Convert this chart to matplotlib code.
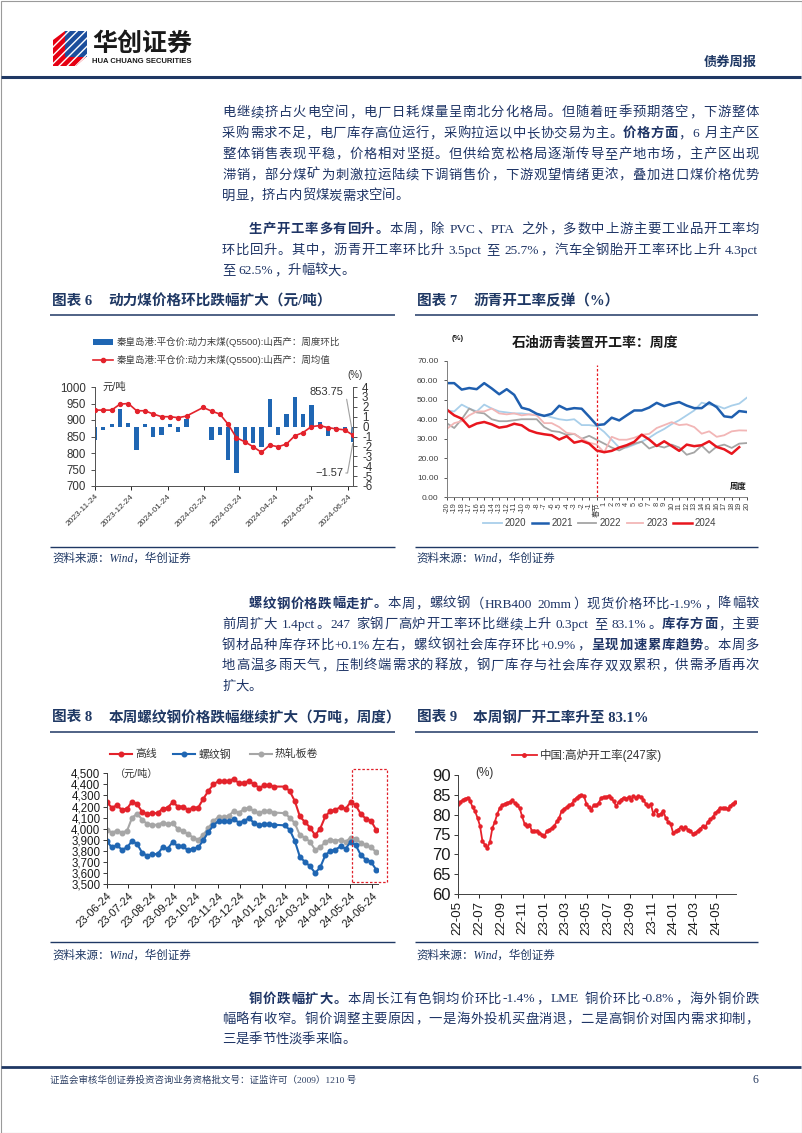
import re
import numpy as np
import pandas as pd
import matplotlib
matplotlib.use('Agg')
import matplotlib.pyplot as plt
from matplotlib.lines import Line2D
from matplotlib.patches import Rectangle, Polygon
from matplotlib.ticker import FuncFormatter

# ------------------------------------------------------------------ data
# Chart 6: thermal coal (weekly, spring-festival week missing)
coal_dates = pd.date_range('2023-11-24', periods=32, freq='7D').delete(12)
coal_price = [930, 930, 930, 948, 950, 928, 928, 918, 910, 910, 907, 912,
              938, 927, 918, 887, 846, 834, 819, 802, 824, 819, 827, 852,
              862, 880, 883, 877, 873, 870, 853.75]
coal_wow = [-1.4, -0.3, 0.3, 1.8, 0.4, -2.4, 0.25, -1.0, -0.8, 0.3, -0.5, 0.8,
            np.nan, -1.4, -0.8, -3.4, -4.7, -1.5, -1.7, -2.1, 2.8, -0.8, 1.3, 3.0,
            1.3, 2.2, 0.5, -0.9, -0.3, -0.3, -1.57]
coal_ticks = pd.date_range('2023-11-24', periods=8, freq=pd.DateOffset(months=1))

# Chart 7: asphalt operating rate by week relative to Spring Festival
asph_labels = [str(i) for i in range(-20, 0)] + ['春节'] + [str(i) for i in range(1, 21)]
asph_2020 = [44.5, 44, 47.5, 45.5, 44, 47.5, 45.5, 44, 43.5, 43, 43, 42.5, 42, 42, 41, 40,
             39.5, 40, 37, 37, 36.5, 33.5, 29.5, 25.5, 25.5, 27, 28.5, 30.5, 33, 35, 37.5,
             39.5, 42, 44.5, 48.5, 47.5, 47, 45.5, 47, 48, 51]
asph_2021 = [58.5, 58.5, 55.2, 56, 55.4, 58.5, 55.8, 52.8, 55.4, 52.5, 45.9, 44.9, 42.8,
             41.7, 42.8, 46.9, 45, 45.7, 45.4, 41.3, 37, 37.4, 40.8, 39.4, 42, 44.5, 44.5,
             46, 48.4, 46.7, 47.9, 48.8, 47, 45.7, 45.7, 48.6, 46.2, 41.5, 41, 44.2, 43.7]
asph_2022 = [38, 35.5, 40, 45.5, 43.5, 43, 40, 39, 39, 39.5, 40, 40, 40, 36, 34, 33.5, 32,
             32.5, 30, 31.5, 29.5, 27.5, 25.5, 24, 26, 27.5, 28.5, 25, 26.5, 25.5, 27, 25.5,
             21.8, 23, 26.5, 22.8, 26, 27, 25.3, 27.5, 27.8]
asph_2023 = [35, 38, 39, 42, 44, 44, 45.5, 43, 42.5, 43, 42, 42.5, 42, 38, 38, 36, 33, 32.5,
             30, 28, 27, 23, 31, 29.5, 29.5, 30.5, 32, 32.5, 35.5, 37, 38.5, 37, 37.4, 36,
             32.6, 33.8, 31, 31.8, 33.8, 34.3, 34.2]
asph_2024 = [45, 42, 40.3, 36, 37.8, 38.6, 37.4, 35.7, 36.3, 37.7, 36.9, 34.3, 33, 32.3,
             31.8, 29.6, 31.3, 28, 28.9, 27.5, 24, 23.1, 23.8, 25.5, 26.7, 28.4, 32.1, 29.6,
             26.3, 28.7, 26.3, 23.8, 27, 26.2, 26.7, 28.7, 25.8, 24.6, 22.3, 25.7, np.nan]

# Chart 8: steel prices (weekly, spring-festival week missing)
steel_dates = pd.date_range('2023-06-24', periods=54, freq='7D').delete(34)
wire_rod = [4240, 4190, 4210, 4170, 4180, 4245, 4220, 4150, 4130, 4140, 4140, 4180, 4190,
            4240, 4200, 4200, 4170, 4190, 4190, 4270, 4340, 4400, 4430, 4430, 4430, 4450,
            4410, 4415, 4430, 4400, 4370, 4390, 4390, 4380,
            4380, 4340, 4250, 4110, 4060, 4010, 3940, 4000, 4110, 4160, 4170, 4195, 4180,
            4240, 4210, 4130, 4090, 4070, 3990]
rebar = [3890, 3830, 3850, 3810, 3830, 3890, 3860, 3780, 3755, 3770, 3770, 3830, 3820,
         3880, 3840, 3840, 3805, 3820, 3830, 3895, 3970, 4030, 4070, 4065, 4065, 4085,
         4055, 4070, 4095, 4050, 4030, 4040, 4040, 4035,
         4030, 3990, 3890, 3745, 3700, 3660, 3600, 3650, 3760, 3800, 3810, 3840, 3820,
         3880, 3850, 3760, 3720, 3700, 3630]
hot_coil = [3990, 3965, 3980, 3965, 3980, 4100, 4135, 4080, 4040, 4035, 4035, 4055, 4040,
            4050, 3995, 3980, 3950, 3920, 3900, 3945, 4005, 4070, 4105, 4105, 4115, 4160,
            4145, 4175, 4190, 4155, 4140, 4160, 4160, 4145,
            4140, 4100, 4050, 3940, 3920, 3880, 3810, 3830, 3880, 3900, 3890, 3900, 3880,
            3920, 3910, 3870, 3850, 3830, 3790]
steel_ticks = pd.date_range('2023-06-24', '2024-06-24', freq=pd.DateOffset(months=1))

# Chart 9: blast furnace operating rate (247 mills), weekly
bf_dates = pd.date_range('2022-05-06', periods=113, freq='7D')
bf_rate = [82.8, 83.2, 83.7, 84.0, 84.3, 83.5, 81.9, 80.9, 79.2, 77.2, 73.3, 72.4, 71.6,
           73.1, 76.6, 78.2, 80.2, 81.7, 82.4, 82.7, 83.0, 83.2, 83.6, 83.0, 82.4, 81.7,
           79.6, 77.7, 77.1, 77.5, 75.8, 76.0, 75.8, 75.4, 75.0, 74.7, 75.8, 76.2, 76.6,
           77.1, 78.3, 79.2, 81.0, 81.5, 81.9, 82.4, 82.7, 83.6, 84.3, 84.7, 84.9, 84.7,
           82.7, 81.9, 81.3, 82.4, 82.4, 83.0, 84.3, 84.4, 84.5, 84.7, 84.1, 83.4, 82.1,
           83.2, 83.8, 84.3, 84.0, 84.4, 83.6, 84.7, 84.3, 84.7, 84.4, 83.8, 82.7, 82.1,
           82.7, 80.2, 81.3, 79.9, 80.2, 81.0, 79.2, 78.2, 77.7, 75.4, 75.8, 76.2, 76.8,
           76.5, 76.8, 76.2, 75.8, 75.2, 75.4, 76.0, 76.5, 77.1, 76.8, 78.2, 78.8, 79.3,
           80.4, 81.0, 81.7, 81.7, 81.7, 81.5, 82.1, 82.8, 83.1]
bf_ticks = pd.date_range('2022-05-06', periods=13, freq=pd.DateOffset(months=2))

# ------------------------------------------------------------------ text content
para1 = ["电继续挤占火电空间，电厂日耗煤量呈南北分化格局。但随着旺季预期落空，下游整体",
         "采购需求不足，电厂库存高位运行，采购拉运以中长协交易为主。**价格方面**，6 月主产区",
         "整体销售表现平稳，价格相对坚挺。但供给宽松格局逐渐传导至产地市场，主产区出现",
         "滞销，部分煤矿为刺激拉运陆续下调销售价，下游观望情绪更浓，叠加进口煤价格优势",
         "明显，挤占内贸煤炭需求空间。"]
para2 = ["**生产开工率多有回升。**本周，除 PVC、PTA 之外，多数中上游主要工业品开工率均",
         "环比回升。其中，沥青开工率环比升 3.5pct 至 25.7%，汽车全钢胎开工率环比上升 4.3pct",
         "至 62.5%，升幅较大。"]
para3 = ["**螺纹钢价格跌幅走扩。**本周，螺纹钢（HRB400 20mm）现货价格环比-1.9%，降幅较",
         "前周扩大 1.4pct。247 家钢厂高炉开工率环比继续上升 0.3pct 至 83.1%。**库存方面**，主要",
         "钢材品种库存环比+0.1%左右，螺纹钢社会库存环比+0.9%，**呈现加速累库趋势**。本周多",
         "地高温多雨天气，压制终端需求的释放，钢厂库存与社会库存双双累积，供需矛盾再次",
         "扩大。"]
para4 = ["**铜价跌幅扩大。**本周长江有色铜均价环比-1.4%，LME 铜价环比-0.8%，海外铜价跌",
         "幅略有收窄。铜价调整主要原因，一是海外投机买盘消退，二是高铜价对国内需求抑制，",
         "三是季节性淡季来临。"]

# ------------------------------------------------------------------ setup
W, H = 802, 1133
CJK = 'Noto Sans CJK SC'
SANS = ['Liberation Sans', CJK, 'DejaVu Sans']
SERIF = ['Liberation Serif', CJK, 'DejaVu Sans']
plt.rcParams['font.family'] = SANS
plt.rcParams['axes.unicode_minus'] = False

NAVY = '#1F3864'
TXT = '#1F3566'
RED = '#E3222B'
BLUE = '#1F66B3'
GRAY = '#A6A6A6'

fig = plt.figure(figsize=(W / 100, H / 100), dpi=100, facecolor='white')
renderer = fig.canvas.get_renderer()


def FX(x):
    return x / W


def FY(y):
    return 1 - y / H


def ptext(x, y, s, **kw):
    return fig.text(FX(x), FY(y), s, **kw)


def hline(x0, x1, y, color=NAVY, lw=1.0):
    fig.add_artist(Line2D([FX(x0), FX(x1)], [FY(y), FY(y)], transform=fig.transFigure,
                          color=color, lw=lw, solid_capstyle='butt'))


def add_ax(x0, y0, x1, y1):
    return fig.add_axes([FX(x0), FY(y1), (x1 - x0) / W, (y1 - y0) / H])


TOKEN_RE = re.compile(r'[A-Za-z0-9\.\-\+%]+|\s|.')
BODY_SIZE = 9.6


def draw_line(line, x0, x1, yc, justify=True, indent=0.0, size=BODY_SIZE):
    em = size * 100 / 72
    items = []
    for k, part in enumerate(line.split('**')):
        bold = (k % 2 == 1)
        for t in TOKEN_RE.findall(part):
            if t.isspace():
                items.append((None, 0.25 * em, bold, t))
            elif re.match(r'[A-Za-z0-9\.\-\+%]', t):
                tx = fig.text(0, 0, t, fontsize=size, family=SERIF,
                              weight='bold' if bold else 'light')
                w = tx.get_window_extent(renderer).width
                tx.remove()
                items.append(('lat', w + 1.0, bold, t))
            else:
                items.append(('cjk', em, bold, t))
    total = sum(it[1] for it in items)
    start = x0 + indent
    gap = (x1 - start - total) / (len(items) - 1) if (justify and len(items) > 1) else 0
    x = start
    base = yc + 0.36 * em
    for kind, w, bold, t in items:
        if kind is not None:
            ptext(x, base, t, fontsize=size, family=SERIF,
                  weight='bold' if bold else 'light', color=TXT, ha='left', va='baseline')
        x += w + gap


def draw_para(lines, y0, pitch, x0=222, x1=759, first_indent=True):
    em = BODY_SIZE * 100 / 72
    for i, ln in enumerate(lines):
        ind = 2 * em if (i == 0 and first_indent) else 0
        draw_line(ln, x0, x1, y0 + i * pitch, justify=(i < len(lines) - 1), indent=ind)


def chart_title(x_num, x_txt, y, num, txt, x_line0, x_line1, y_line):
    ptext(x_num, y, num, fontsize=10.5, weight='bold', color=NAVY, family=SERIF,
          ha='left', va='center')
    ptext(x_txt, y, txt, fontsize=10.5, weight='bold', color=NAVY, family=SERIF,
          ha='left', va='center')
    hline(x_line0, x_line1, y_line, NAVY, 1.1)


def source(x, y, x_line0, x_line1, y_line):
    hline(x_line0, x_line1, y_line, NAVY, 1.0)
    ptext(x, y, '资料来源：Wind，华创证券', fontsize=8.3, style='italic', color=NAVY,
          family=SERIF, ha='left', va='center')


# ------------------------------------------------------------------ page frame & header
fig.add_artist(Rectangle((FX(0.5), FY(1132.5)), 801 / W, 1132 / H, transform=fig.transFigure,
                         fill=False, ec='#9A9A9A', lw=0.8))
red_logo = [(53, 40), (65, 31), (65, 57), (86, 57), (76, 66), (53, 66)]
blue_logo = [(65, 31), (87, 31), (87, 57), (65, 57)]
fig.add_artist(Polygon([(FX(a), FY(b)) for a, b in red_logo], closed=True,
                       transform=fig.transFigure, facecolor='#E60012', edgecolor='white',
                       hatch='////', lw=0))
fig.add_artist(Polygon([(FX(a), FY(b)) for a, b in blue_logo], closed=True,
                       transform=fig.transFigure, facecolor='#1C4E9C', edgecolor='white',
                       hatch='////', lw=0))
ptext(92, 44, '华创证券', fontsize=18, weight='bold', color='#1A1A1A', family=[CJK],
      ha='left', va='center')
ptext(92, 61.5, 'HUA CHUANG SECURITIES', fontsize=5.5, weight='bold', color='#1A1A1A',
      ha='left', va='center')
ptext(757, 63, '债券周报', fontsize=9.5, weight='bold', color=NAVY, family=SERIF,
      ha='right', va='center')
hline(1, 801, 77.3, NAVY, 2.2)

# ------------------------------------------------------------------ body text
draw_para(para1, 111.5, 20.8, first_indent=False)
draw_para(para2, 228.0, 20.8)
draw_para(para3, 602.7, 20.6)
draw_para(para4, 997.7, 20.3)

# ------------------------------------------------------------------ titles / sources
chart_title(51.7, 108.3, 301, '图表 6', '动力煤价格环比跌幅扩大（元/吨）', 50, 395, 315)
chart_title(416.7, 473.3, 301, '图表 7', '沥青开工率反弹（%）', 415, 758, 315)
chart_title(51.7, 108.3, 717.7, '图表 8', '本周螺纹钢价格跌幅继续扩大（万吨，周度）', 50, 395, 731.7)
chart_title(416.7, 473.3, 717.7, '图表 9', '本周钢厂开工率升至 83.1%', 415, 758, 731.7)
source(52, 558.5, 50, 395, 547.3)
source(416.7, 558.5, 415, 758, 547.3)
source(52, 955.7, 50, 395, 942.3)
source(416.7, 955.7, 415, 758, 942.3)

# ------------------------------------------------------------------ chart 6
ax6 = add_ax(95, 387, 353, 486)
ax6b = ax6.twinx()
mask = ~np.isnan(np.array(coal_wow, dtype=float))
ax6b.bar(coal_dates[mask], np.array(coal_wow)[mask], width=3.6, color=BLUE, zorder=2)
ax6.plot(coal_dates, coal_price, color=RED, lw=1.2, marker='o', ms=2.8, zorder=3)
ax6.set_zorder(ax6b.get_zorder() + 1)
ax6.patch.set_visible(False)
ax6.set_xlim(pd.Timestamp('2023-11-24'), pd.Timestamp('2024-06-28'))
ax6.set_ylim(700, 1000)
ax6.set_yticks(range(700, 1001, 50))
ax6b.set_ylim(-6, 4)
ax6b.set_yticks(range(-6, 5))
ax6.set_xticks(coal_ticks)
ax6.set_xticklabels([d.strftime('%Y-%m-%d') for d in coal_ticks], rotation=45, ha='right',
                    rotation_mode='anchor', fontsize=6, color='#333333')
ax6.tick_params(axis='y', labelsize=8.3, colors='#333333', length=3, width=0.6)
ax6.tick_params(axis='x', length=3, width=0.6, pad=2)
ax6b.tick_params(axis='y', labelsize=8.3, colors='#333333', length=3, width=0.6)
for a in (ax6, ax6b):
    a.spines['top'].set_visible(False)
    for s in ('left', 'right', 'bottom'):
        a.spines[s].set_color('#555555')
        a.spines[s].set_linewidth(0.7)
ax6.annotate('853.75', xy=(coal_dates[-1], 853.75), xytext=(FX(310), FY(392)),
             textcoords='figure fraction', ha='left', va='center', fontsize=8, color='#333333',
             arrowprops=dict(arrowstyle='-', color='#A0A0A0', lw=0.8, shrinkA=0, shrinkB=2,
                             connectionstyle='angle,angleA=0,angleB=100,rad=0'))
ax6b.annotate('−1.57', xy=(coal_dates[-1], -1.57), xytext=(FX(315), FY(473)),
              textcoords='figure fraction', ha='left', va='center', fontsize=8, color='#333333',
              arrowprops=dict(arrowstyle='-', color='#A0A0A0', lw=0.8, shrinkA=0, shrinkB=1,
                              connectionstyle='angle,angleA=0,angleB=80,rad=0'))
ptext(102, 387, '元/吨', fontsize=7.5, color='#333333', ha='left', va='center')
ptext(355, 375, '(%)', fontsize=7, color='#333333', ha='center', va='center')
# legend
fig.add_artist(Rectangle((FX(93), FY(344.5)), 20 / W, 5.5 / H, transform=fig.transFigure,
                         color=BLUE, lw=0))
ptext(117, 341.7, '秦皇岛港:平仓价:动力末煤(Q5500):山西产：周度环比', fontsize=6.8,
      color='#404040', ha='left', va='center')
fig.add_artist(Line2D([FX(93), FX(113)], [FY(360), FY(360)], transform=fig.transFigure,
                      color=RED, lw=1.2))
fig.add_artist(Line2D([FX(103)], [FY(360)], transform=fig.transFigure, color=RED,
                      marker='o', ms=3, ls='none'))
ptext(117, 360, '秦皇岛港:平仓价:动力末煤(Q5500):山西产：周均值', fontsize=6.8,
      color='#404040', ha='left', va='center')

# ------------------------------------------------------------------ chart 7
ax7 = add_ax(446.7, 360.7, 746.7, 497.3)
idx = np.arange(len(asph_labels))
series7 = [('2020', asph_2020, '#A9CFEA', 1.3), ('2022', asph_2022, '#A5A5A5', 1.3),
           ('2023', asph_2023, '#F2B6B6', 1.3), ('2021', asph_2021, '#1F5FAF', 1.8),
           ('2024', asph_2024, '#E8161E', 1.8)]
for name, vals, col, lw in series7:
    ax7.plot(idx, vals, color=col, lw=lw)
ax7.axvline(20, ymin=0, ymax=68 / 70, color='#E8161E', ls=(0, (2, 1.6)), lw=0.9)
ax7.set_xlim(0, 40)
ax7.set_ylim(0, 70)
ax7.set_yticks(range(0, 71, 10))
ax7.set_yticklabels([f'{v:.2f}' for v in range(0, 71, 10)])
ax7.set_xticks(idx)
ax7.set_xticklabels(asph_labels, rotation=90, fontsize=5.3, color='#404040')
ax7.tick_params(axis='y', labelsize=6, colors='#404040', length=2.5, width=0.6)
ax7.tick_params(axis='x', length=2, width=0.5, pad=1.5)
for s in ('top', 'right'):
    ax7.spines[s].set_visible(False)
for s in ('left', 'bottom'):
    ax7.spines[s].set_color('#7F7F7F')
    ax7.spines[s].set_linewidth(0.7)
ptext(595, 343, '石油沥青装置开工率：周度', fontsize=10, weight='bold', color='#1A1A1A',
      family=SERIF, ha='center', va='center')
ptext(458, 339, '(%)', fontsize=5.5, weight='bold', color='#1A1A1A', ha='center', va='center')
ptext(738, 487, '周度', fontsize=6, weight='bold', color='#1A1A1A', ha='center', va='center')
leg7 = [('2020', '#A9CFEA', 1.3, 483.3, 501.7, 505), ('2021', '#1F5FAF', 1.8, 531.7, 548.3, 551.7),
        ('2022', '#A5A5A5', 1.3, 578, 596, 600), ('2023', '#F2B6B6', 1.3, 626.7, 643.3, 646.7),
        ('2024', '#E8161E', 1.8, 673, 692, 694.3)]
for name, col, lw, a0, a1, tx in leg7:
    fig.add_artist(Line2D([FX(a0), FX(a1)], [FY(523.3), FY(523.3)], transform=fig.transFigure,
                          color=col, lw=lw))
    ptext(tx, 523.3, name, fontsize=7, color='#404040', ha='left', va='center')

# ------------------------------------------------------------------ chart 8
ax8 = add_ax(106.7, 773.3, 378.3, 884)
for vals, col in ((hot_coil, GRAY), (rebar, BLUE), (wire_rod, RED)):
    ax8.plot(steel_dates, vals, color=col, lw=1.5, marker='o', ms=3.3)
ax8.set_xlim(pd.Timestamp('2023-06-24'), pd.Timestamp('2024-07-02'))
ax8.set_ylim(3500, 4500)
ax8.set_yticks(range(3500, 4501, 100))
ax8.yaxis.set_major_formatter(FuncFormatter(lambda v, p: f'{int(v):,}'))
ax8.set_xticks(steel_ticks)
ax8.set_xticklabels([d.strftime('%y-%m-%d') for d in steel_ticks], rotation=45, ha='right',
                    rotation_mode='anchor', fontsize=8, color='#1A1A1A')
ax8.tick_params(axis='y', labelsize=8.3, colors='#1A1A1A', length=3, width=0.6, pad=1.5)
ax8.tick_params(axis='x', length=3, width=0.6, pad=2)
for s in ('top', 'right'):
    ax8.spines[s].set_visible(False)
for s in ('left', 'bottom'):
    ax8.spines[s].set_color('#404040')
    ax8.spines[s].set_linewidth(0.7)
ptext(115, 773.3, '（元/吨）', fontsize=7.3, color='#333333', ha='left', va='center')
fig.add_artist(Rectangle((FX(352.3), FY(881.7)), (386.7 - 352.3) / W, (881.7 - 769) / H,
                         transform=fig.transFigure, fill=False, ec='#E0202A',
                         ls=(0, (2, 1.5)), lw=0.9))
leg8 = [('高线', RED, 110, 131.7, 135), ('螺纹钢', BLUE, 173.3, 195, 198.3),
        ('热轧板卷', GRAY, 250, 271.7, 275)]
for name, col, a0, a1, tx in leg8:
    fig.add_artist(Line2D([FX(a0), FX(a1)], [FY(754.3), FY(754.3)], transform=fig.transFigure,
                          color=col, lw=1.5))
    fig.add_artist(Line2D([FX((a0 + a1) / 2)], [FY(754.3)], transform=fig.transFigure,
                          color=col, marker='o', ms=3.3, ls='none'))
    ptext(tx, 754.3, name, fontsize=7.8, color='#333333', ha='left', va='center')

# ------------------------------------------------------------------ chart 9
ax9 = add_ax(457.7, 775, 735.7, 894)
ax9.plot(bf_dates, bf_rate, color='#E6212A', lw=1.3, marker='o', ms=2.2)
ax9.set_xlim(pd.Timestamp('2022-05-06'), pd.Timestamp('2024-06-30'))
ax9.set_ylim(60, 90)
ax9.set_yticks(range(60, 91, 5))
ax9.set_xticks(bf_ticks)
ax9.set_xticklabels([d.strftime('%y-%m') for d in bf_ticks], rotation=90, fontsize=9.5,
                    color='#1A1A1A')
ax9.tick_params(axis='y', labelsize=12, colors='#1A1A1A', length=3, width=0.6, pad=2)
ax9.tick_params(axis='x', length=3, width=0.6, pad=2)
for s in ('top', 'right'):
    ax9.spines[s].set_visible(False)
for s in ('left', 'bottom'):
    ax9.spines[s].set_color('#404040')
    ax9.spines[s].set_linewidth(0.7)
ptext(484, 773, '(%)', fontsize=8.5, color='#333333', ha='center', va='center')
fig.add_artist(Line2D([FX(511.7), FX(536.7)], [FY(755), FY(755)], transform=fig.transFigure,
                      color='#E6212A', lw=1.3))
fig.add_artist(Line2D([FX(524.2)], [FY(755)], transform=fig.transFigure, color='#E6212A',
                      marker='o', ms=2.5, ls='none'))
ptext(540, 755, '中国:高炉开工率(247家)', fontsize=8.3, color='#333333', ha='left', va='center')

# ------------------------------------------------------------------ footer
hline(1, 801, 1066.7, NAVY, 2.0)
ptext(50, 1080, '证监会审核华创证券投资咨询业务资格批文号：证监许可（2009）1210 号',
      fontsize=6.8, color='#2B3E63', family=SERIF, ha='left', va='center')
ptext(758, 1080, '6', fontsize=8.5, color='#2B3E63', family=SERIF, ha='right', va='center')

fig.savefig('out.png', dpi=100, facecolor='white')
